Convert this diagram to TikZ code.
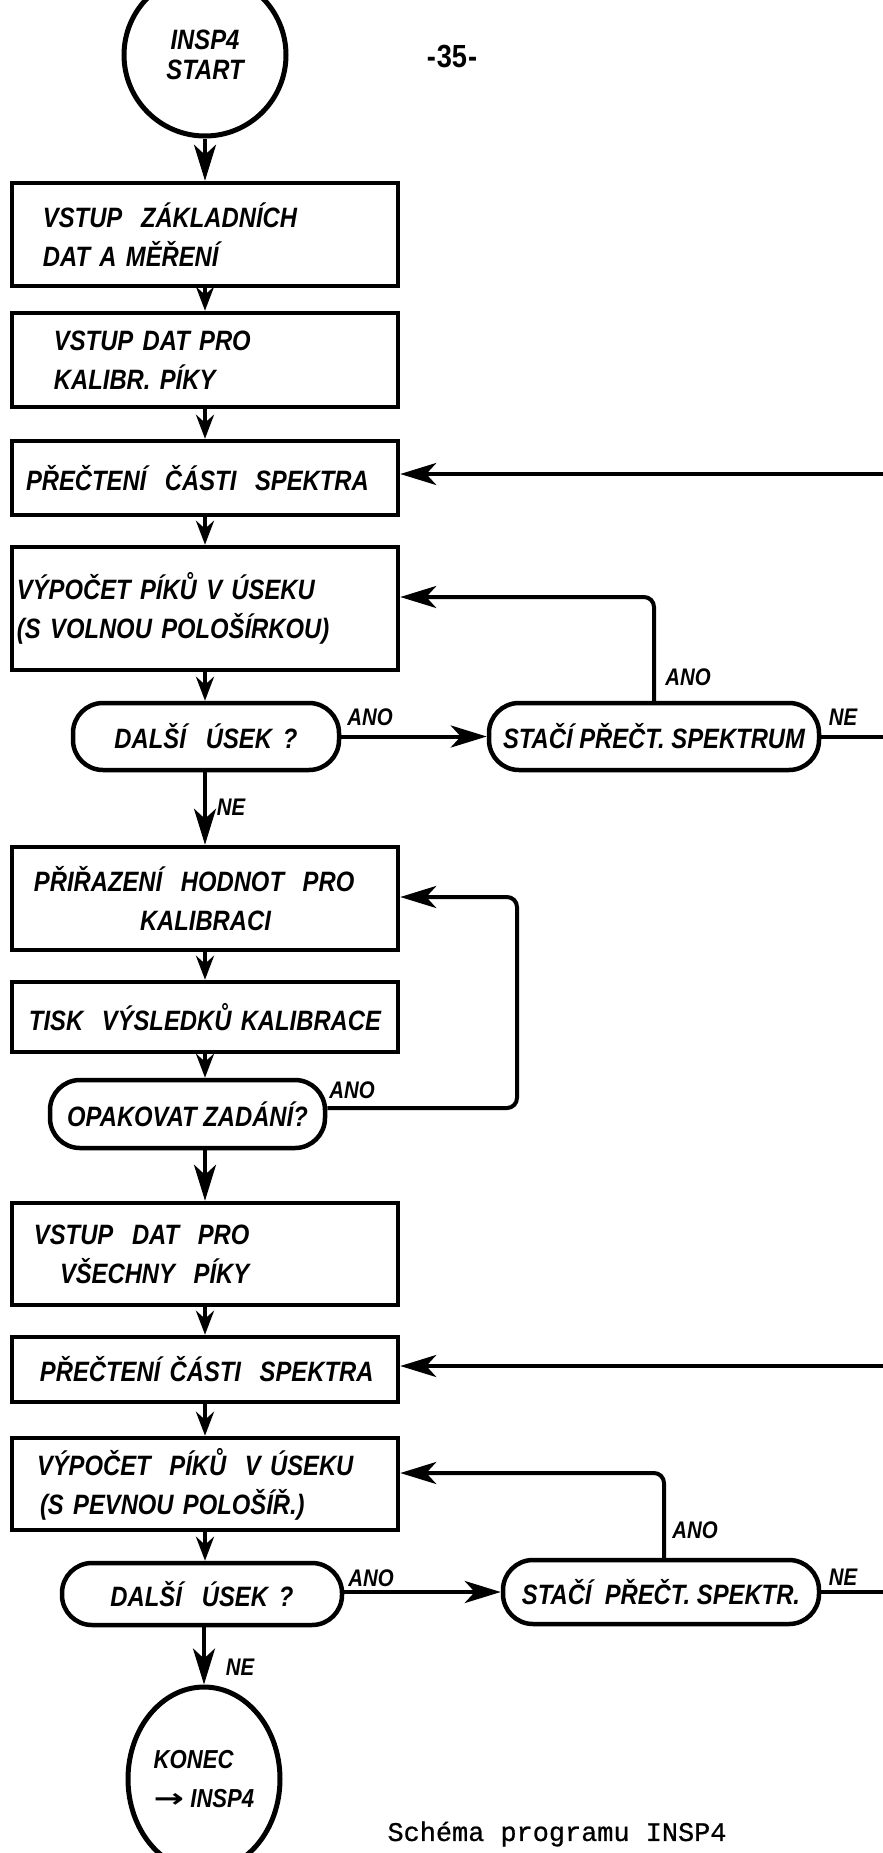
\documentclass[tikz,border=0pt]{standalone}
\usepackage{fontspec}
\usetikzlibrary{arrows.meta,calc,shapes.geometric}
\newfontfamily\hand{Liberation Sans}[FakeStretch=0.85]
\newfontfamily\tw{Liberation Mono}[FakeBold=0.8]
\newfontfamily\symf{DejaVu Sans}

\tikzset{
  lettering/.style={font=\hand\bfseries\itshape\fontsize{28}{39}\selectfont},
  box/.style={draw, line width=4.5pt, minimum width=386pt, text width=386pt,
    inner xsep=0pt, inner ysep=0pt, align=left, lettering},
  dec/.style={draw, line width=4.5pt, rounded corners=30pt, minimum height=67pt,
    inner sep=0pt, lettering},
  terminal/.style={draw, line width=5pt, inner sep=0pt, lettering},
  lab/.style={inner sep=0pt, font=\hand\bfseries\itshape\fontsize{24}{26}\selectfont},
  conn/.style={line width=4pt},
  arr/.style={conn, -{Stealth[length=24pt,width=18pt,inset=8pt]}},
  bigarr/.style={conn, -{Stealth[length=36pt,width=22pt,inset=10pt]}},
}

\begin{document}
\begin{tikzpicture}[x=1pt,y=-1pt]
\useasboundingbox (0,0) rectangle (883,1853);
\fill[white] (0,0) rectangle (883,1853);

% start and page number
\node[terminal, circle, minimum size=162pt, align=center,
  font=\hand\bfseries\itshape\fontsize{28}{30}\selectfont] (start) at (205,55) {INSP4\\START};
\node[inner sep=0pt, font=\hand\bfseries\fontsize{32}{34}\selectfont] (pg) at (452,57) {-\kern1pt35\kern1pt-};

% first pass: calibration peaks
\node[box, minimum height=103pt] (b1) at (205,234.5)
  {\hspace*{31pt}VSTUP\ \ ZÁKLADNÍCH\\\hspace*{31pt}DAT A MĚŘENÍ};
\node[box, minimum height=94pt] (b2) at (205,360)
  {\hspace*{42pt}VSTUP DAT PRO\\\hspace*{42pt}KALIBR. PÍKY};
\node[box, minimum height=74pt] (b3) at (205,478)
  {\hspace*{14pt}PŘEČTENÍ\ \ ČÁSTI\ \ SPEKTRA};
\node[box, minimum height=123pt] (b4) at (205,608.5)
  {\hspace*{5pt}VÝPOČET PÍKŮ V ÚSEKU\\\hspace*{5pt}(S VOLNOU POLOŠÍRKOU)};
\node[dec, minimum width=266pt] (d1) at (206,736.5) {DALŠÍ\hspace{20pt}ÚSEK\hspace{11pt}?};
\node[dec, minimum width=330pt] (s1) at (654,736.5) {STAČÍ PŘEČT. SPEKTRUM};

\node[box, minimum height=103pt] (b5) at (205,898.5)
  {\hspace*{22pt}PŘIŘAZENÍ\ \ HODNOT\ \ PRO\\\hspace*{128pt}KALIBRACI};
\node[box, minimum height=70pt] (b6) at (205,1017)
  {\hspace*{17pt}TISK\ \ VÝSLEDKŮ KALIBRACE};
\node[dec, minimum width=275pt, minimum height=68pt] (d2) at (187.5,1114) {OPAKOVAT ZADÁNÍ?};

% second pass: all peaks
\node[box, minimum height=102pt] (b7) at (205,1254)
  {\hspace*{22pt}VSTUP\ \ DAT\ \ PRO\\\hspace*{48pt}VŠECHNY\ \ PÍKY};
\node[box, minimum height=65pt] (b8) at (205,1369.5)
  {\hspace*{28pt}PŘEČTENÍ ČÁSTI\ \ SPEKTRA};
\node[box, minimum height=92pt] (b9) at (205,1484)
  {\hspace*{25pt}VÝPOČET\ \ PÍKŮ\ \ V ÚSEKU\\\hspace*{28pt}(S PEVNOU POLOŠÍŘ.)};
\node[dec, minimum width=280pt, minimum height=62pt] (d3) at (202,1594)
  {DALŠÍ\hspace{20pt}ÚSEK\hspace{11pt}?\hspace{36pt}};
\node[dec, minimum width=316pt, minimum height=64pt] (s2) at (661,1592) {STAČÍ\ \ PŘEČT. SPEKTR.};

\node[terminal, ellipse, minimum width=152pt, minimum height=184pt, align=left,
  font=\hand\bfseries\itshape\fontsize{26}{39}\selectfont] (end) at (204,1779)
  {KONEC\\{\symf\bfseries\scalebox{1.4}[1]{→}}\ INSP4};

\node[inner sep=0pt, font=\tw\fontsize{26.9}{30}\selectfont] (cap) at (557,1834) {Schéma programu INSP4};

% loop turning points and off-page ends
\coordinate (l1) at (654,597);
\coordinate (l2a) at (517,1108);
\coordinate (l2) at (517,897);
\coordinate (l3) at (664,1473);
\coordinate (e1) at (883,474);
\coordinate (e2) at (883,1366);

% main flow
\draw[bigarr] (start) -- (b1);
\draw[arr] (b1) -- (b2);
\draw[arr] (b2) -- (b3);
\draw[arr] (b3) -- (b4);
\draw[arr] (b4.south) -- (b4.south |- d1.north);
\draw[bigarr] (d1.south -| b5) -- (b5.north);
\draw[arr] (b5) -- (b6);
\draw[arr] (b6.south) -- (b6.south |- d2.north);
\draw[bigarr] (d2.south -| b7) -- (b7.north);
\draw[arr] (b7) -- (b8);
\draw[arr] (b8) -- (b9);
\draw[arr] (b9.south) -- (b9.south |- d3.north);
\draw[bigarr] (d3.south -| end) -- (end);

% branches
\draw[bigarr] (d1) -- (s1);
\draw[bigarr, rounded corners=10pt] (s1.north) -- (l1) -- (l1 -| b4.east);
\draw[conn] (s1.east) -- (s1.east -| e1);
\draw[bigarr] (e1) -- (e1 -| b3.east);

\draw[bigarr, rounded corners=10pt] (d2.east |- l2a) -- (l2a) -- (l2) -- (l2 -| b5.east);

\draw[bigarr] (d3.east |- s2.west) -- (s2.west);
\draw[bigarr, rounded corners=10pt] (s2.north -| l3) -- (l3) -- (l3 -| b9.east);
\draw[conn] (s2.east) -- (s2.east -| e2);
\draw[bigarr] (e2) -- (e2 -| b8.east);

% branch labels
\node[lab] (t1) at (370,717) {ANO};
\node[lab] (t2) at (688,677) {ANO};
\node[lab] (t3) at (843,717) {NE};
\node[lab] (t4) at (231,807) {NE};
\node[lab] (t5) at (352,1090) {ANO};
\node[lab] (t6) at (371,1578) {ANO};
\node[lab] (t7) at (695,1530) {ANO};
\node[lab] (t8) at (843,1577) {NE};
\node[lab] (t9) at (240,1667) {NE};
\end{tikzpicture}
\end{document}
